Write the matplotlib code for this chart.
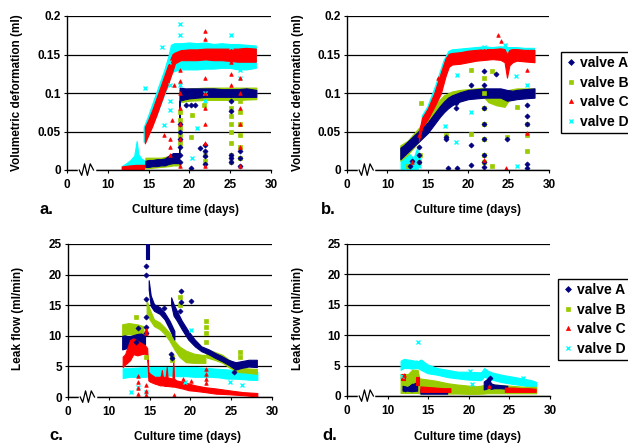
import numpy as np
import matplotlib
matplotlib.use("Agg")
import matplotlib.pyplot as plt
from matplotlib.lines import Line2D
from matplotlib.ticker import FuncFormatter

nan = np.nan

# ---------------- panel a: volumetric deformation, group 1 ----------------
aA_t = [14.6, 15.0, 15.5, 16.0, 16.5, 17.0, 17.5, 18.0, 18.5, 18.75, 18.8, 19.5, 20.0, 21.0, 22.0, 23.0, 24.0, 25.0, 26.0, 27.0, 28.2]
aA_lo = [0.004, 0.004, 0.005, 0.005, 0.006, 0.006, 0.008, 0.009, 0.009, 0.009, 0.09, 0.092, 0.093, 0.094, 0.095, 0.095, 0.095, 0.095, 0.095, 0.095, 0.095]
aA_hi = [0.012, 0.013, 0.013, 0.014, 0.014, 0.015, 0.019, 0.022, 0.022, 0.022, 0.107, 0.106, 0.106, 0.106, 0.106, 0.106, 0.105, 0.105, 0.105, 0.106, 0.104]
aA_ot = [18.8, 18.8, 18.8, 18.8, 18.8, 18.8, 20.2, 20.7, 21.3, 20.2, 21.9, 21.9, 21.9, 21.9, 25.1, 25.1, 25.1, 25.1, 25.1, 26.2, 26.2, 26.2, 19.6]
aA_ov = [0.06, 0.05, 0.04, 0.03, 0.02, 0.01, 0.085, 0.084, 0.028, 0.002, 0.033, 0.025, 0.018, 0.008, 0.09, 0.076, 0.02, 0.015, 0.01, 0.025, 0.015, 0.005, 0.085]

aB_t = [14.6, 15.5, 16.5, 17.5, 18.0, 18.7, 18.75, 18.8, 20.0, 22.0, 24.0, 26.0, 28.2]
aB_lo = [0.002, 0.003, 0.004, 0.005, 0.006, 0.006, 0.006, 0.088, 0.09, 0.091, 0.091, 0.091, 0.092]
aB_hi = [0.016, 0.016, 0.016, 0.018, 0.02, 0.022, 0.022, 0.104, 0.106, 0.107, 0.107, 0.107, 0.107]
aB_ot = [18.8, 18.8, 18.8, 18.8, 18.8, 20.3, 20.2, 21.8, 21.9, 21.9, 25.1, 25.1, 25.1, 25.1, 25.1, 25.1, 25.1, 26.2, 26.2, 26.2, 26.2, 26.2, 26.2]
aB_ov = [0.075, 0.065, 0.055, 0.045, 0.035, 0.072, 0.043, 0.085, 0.02, 0.012, 0.08, 0.07, 0.06, 0.05, 0.035, 0.02, 0.01, 0.09, 0.075, 0.06, 0.045, 0.03, 0.015]

aC_t = [11.8, 12.5, 13.5, 14.5, nan, 14.6, 15.0, 15.5, 16.0, 16.5, 17.0, 17.5, 17.8, 18.0, 18.3, 19.0, 20.0, 21.0, 22.0, 23.0, 24.0, 25.0, 26.0, 27.0, 28.2]
aC_lo = [0.0, 0.0, 0.0, 0.0, nan, 0.034, 0.044, 0.056, 0.07, 0.085, 0.1, 0.113, 0.122, 0.128, 0.138, 0.142, 0.142, 0.142, 0.143, 0.142, 0.142, 0.141, 0.14, 0.14, 0.14]
aC_hi = [0.004, 0.005, 0.006, 0.006, nan, 0.055, 0.064, 0.077, 0.092, 0.107, 0.122, 0.137, 0.145, 0.15, 0.152, 0.155, 0.156, 0.156, 0.157, 0.157, 0.157, 0.157, 0.157, 0.158, 0.157]
aC_ot = [17.6, 17.6, 17.6, 16.9, 18.8, 18.8, 18.8, 18.8, 18.8, 18.8, 18.8, 21.9, 21.9, 21.9, 21.9, 21.9, 21.9, 21.9, 21.9, 21.9,
         25.1, 25.1, 25.1, 26.2, 26.2, 26.2, 26.2, 26.2, 26.2, 26.2, 17.9, 18.1]
aC_ov = [0.04, 0.03, 0.02, 0.045, 0.13, 0.115, 0.1, 0.08, 0.06, 0.04, 0.005, 0.18, 0.17, 0.15, 0.12, 0.1, 0.08, 0.06, 0.035, 0.005,
         0.14, 0.125, 0.11, 0.15, 0.12, 0.1, 0.08, 0.06, 0.03, 0.005, 0.065, 0.11]

aD_t = [11.7, 12.3, 12.8, 13.3, 13.6, 13.8, 14.2, 14.5, nan, 14.45, 15.0, 15.5, 16.0, 16.5, 17.0, 17.5, 17.8, 18.2, 19.0, 20.0, 21.0, 22.0, 23.0, 24.0, 25.0, 26.0, 27.0, 28.2]
aD_lo = [0, 0, 0, 0, 0, 0, 0, 0, nan, 0.036, 0.047, 0.058, 0.07, 0.084, 0.098, 0.112, 0.125, 0.128, 0.13, 0.13, 0.13, 0.131, 0.131, 0.132, 0.132, 0.13, 0.13, 0.132]
aD_hi = [0.004, 0.008, 0.012, 0.018, 0.037, 0.02, 0.014, 0.012, nan, 0.055, 0.07, 0.085, 0.1, 0.115, 0.13, 0.148, 0.162, 0.164, 0.164, 0.165, 0.164, 0.165, 0.163, 0.164, 0.163, 0.163, 0.162, 0.161]
aD_ot = [14.6, 16.9, 17.5, 17.6, 17.6, 17.6, 18.8, 18.8, 18.8, 20.9, 20.3, 21.9, 21.9, 25.1, 25.1, 26.2, 26.2, 16.7]
aD_ov = [0.106, 0.058, 0.14, 0.11, 0.09, 0.078, 0.19, 0.175, 0.11, 0.055, 0.016, 0.1, 0.09, 0.175, 0.16, 0.13, 0.12, 0.16]

# ---------------- panel b: volumetric deformation, group 2 ----------------
bA_t = [11.6, 12.0, 12.5, 13.0, 13.5, 14.0, 14.5, 15.0, 15.5, 16.0, 16.5, 17.0, 17.5, 18.0, 18.5, 19.0, 20.0, 21.0, 22.0, 23.0, 24.0, 24.8, 25.5, 26.0, 27.0, 28.2]
bA_lo = [0.014, 0.018, 0.023, 0.028, 0.033, 0.038, 0.043, 0.048, 0.055, 0.062, 0.069, 0.075, 0.08, 0.084, 0.087, 0.089, 0.092, 0.093, 0.094, 0.094, 0.094, 0.09, 0.091, 0.092, 0.093, 0.094]
bA_hi = [0.029, 0.032, 0.037, 0.042, 0.047, 0.052, 0.057, 0.062, 0.069, 0.076, 0.083, 0.089, 0.094, 0.097, 0.099, 0.101, 0.104, 0.105, 0.106, 0.106, 0.106, 0.104, 0.103, 0.104, 0.105, 0.106]
bA_ot = [13.9, 13.9, 13.9, 17.2, 17.3, 17.5, 18.5, 18.5, 18.6, 20.3, 20.3, 20.4, 21.9, 21.9, 21.9, 21.9, 21.9, 21.9, 21.9, 21.9,
         23.5, 24.8, 27.3, 27.3, 27.3, 27.3, 27.3, 12.8, 13.0]
bA_ov = [0.03, 0.02, 0.01, 0.04, 0.043, 0.002, 0.08, 0.087, 0.003, 0.033, 0.006, 0.11, 0.128, 0.11, 0.08, 0.06, 0.04, 0.02, 0.01, 0.004,
         0.125, 0.04, 0.085, 0.07, 0.06, 0.008, 0.003, 0.005, 0.012]

bB_t = [11.6, 12.5, 13.0, 14.0, 15.0, 16.0, 17.0, 18.0, 19.0, 20.0, 21.0, 22.0, 22.5, 23.5, 24.5, 25.0, 26.0, 27.0, 28.2]
bB_lo = [0.012, 0.02, 0.026, 0.038, 0.052, 0.068, 0.08, 0.088, 0.092, 0.094, 0.095, 0.094, 0.088, 0.084, 0.082, 0.09, 0.094, 0.095, 0.094]
bB_hi = [0.032, 0.038, 0.044, 0.056, 0.07, 0.086, 0.097, 0.102, 0.104, 0.105, 0.106, 0.107, 0.104, 0.098, 0.096, 0.104, 0.106, 0.106, 0.106]
bB_ot = [14.2, 17.2, 20.3, 20.3, 21.9, 21.9, 21.9, 21.9, 21.9, 21.9, 21.9, 23.0, 23.0, 23.3, 24.8, 26.0, 27.3, 27.3, 27.3, 12.6, 14.0, 13.9]
bB_ov = [0.087, 0.045, 0.13, 0.047, 0.12, 0.1, 0.08, 0.06, 0.04, 0.02, 0.01, 0.128, 0.005, 0.09, 0.043, 0.082, 0.06, 0.045, 0.025, 0.005, 0.02, 0.01]

bC_t = [13.9, 14.3, 15.0, 15.8, 16.6, 17.2, 17.6, 18.0, 19.0, 20.0, 21.0, 22.0, 23.0, 24.0, 24.5, 24.8, 25.1, 25.5, 26.0, 27.0, 28.2]
bC_lo = [0.038, 0.055, 0.066, 0.082, 0.099, 0.122, 0.134, 0.137, 0.138, 0.14, 0.142, 0.143, 0.144, 0.143, 0.14, 0.12, 0.136, 0.14, 0.142, 0.141, 0.14]
bC_hi = [0.05, 0.068, 0.08, 0.1, 0.126, 0.145, 0.151, 0.152, 0.153, 0.155, 0.156, 0.157, 0.157, 0.158, 0.157, 0.15, 0.156, 0.157, 0.157, 0.156, 0.156]
bC_ot = [16.3, 23.7, 24.0, 21.9, 27.3, 27.3, 24.7, 13.9, 13.0]
bC_ov = [0.12, 0.175, 0.168, 0.013, 0.13, 0.048, 0.003, 0.045, 0.01]

bD_t = [11.7, 12.3, 12.8, 13.3, 13.8, nan, 14.3, 15.0, 16.0, 17.0, 17.6, 18.0, 19.0, 20.0, 21.0, 22.0, 23.0, 24.0, 25.0, 26.0, 27.0, 28.2]
bD_lo = [0, 0, 0, 0, 0, nan, 0.058, 0.068, 0.09, 0.118, 0.134, 0.137, 0.139, 0.141, 0.143, 0.144, 0.145, 0.145, 0.143, 0.143, 0.142, 0.142]
bD_hi = [0.012, 0.016, 0.02, 0.015, 0.03, nan, 0.07, 0.082, 0.11, 0.142, 0.154, 0.156, 0.157, 0.158, 0.159, 0.16, 0.159, 0.16, 0.159, 0.159, 0.158, 0.158]
bD_ot = [17.1, 18.5, 20.3, 21.9, 24.5, 25.9, 27.3, 26.0, 18.6, 12.8, 13.9, 13.9]
bD_ov = [0.057, 0.036, 0.075, 0.16, 0.162, 0.122, 0.11, 0.005, 0.124, 0.005, 0.005, 0.015]

# ---------------- panel c: leak flow, group 1 ----------------
cA_t = [11.7, 12.0, 12.5, 13.0, 13.5, 14.0, 14.5, nan, 14.6, 14.9, nan, 14.95, 15.2, 15.6, 16.3, 16.9, 17.5, 18.1, nan,
        17.7, 18.0, 18.4, 19.0, 19.8, 20.6, 21.4, 22.3, 23.1, 23.9, 24.7, 25.6, 26.4, 27.2, 28.2]
cA_lo = [7.7, 7.8, 8.0, 8.2, 8.0, 8.3, 8.5, nan, 22.5, 22.5, nan, 17.5, 14.8, 14.0, 13.5, 12.6, 11.0, 9.3, nan,
         15.0, 13.2, 12.4, 11.0, 9.3, 8.2, 7.4, 6.9, 6.3, 5.8, 5.2, 4.4, 4.7, 4.9, 4.8]
cA_hi = [9.9, 10.0, 9.8, 10.0, 10.2, 10.3, 10.0, nan, 25.0, 25.0, nan, 19.0, 16.5, 15.1, 14.6, 13.7, 12.4, 10.7, nan,
         16.2, 15.1, 14.0, 12.4, 10.7, 9.3, 8.2, 7.7, 7.1, 6.6, 6.0, 5.6, 5.8, 6.0, 6.0]
cA_ot = [14.6, 14.6, 14.6, 14.6, 14.6, 14.6, 16.8, 17.6, 17.8, 18.8, 18.8, 18.7, 20.1, 25.3, 13.6, 13.3, 12.0]
cA_ov = [21.4, 20.0, 16.0, 13.0, 11.5, 10.5, 14.6, 7.1, 6.3, 17.3, 15.5, 14.0, 15.7, 4.1, 11.3, 9.0, 8.5]

cB_t = [11.7, 12.5, 13.5, 14.3, nan, 14.7, 15.06, 15.6, 16.3, 16.9, 17.5, 18.1, 18.7, 19.5, 20.5, 21.5, 21.9, nan,
        22.0, 23.0, 24.0, 25.0, 26.0, 27.0, 28.2]
cB_lo = [10.0, 10.2, 10.0, 10.0, nan, 13.5, 12.6, 11.5, 11.0, 10.2, 9.1, 7.7, 6.5, 5.6, 5.5, 5.5, 5.5, nan,
         6.4, 6.0, 5.5, 4.6, 4.0, 3.9, 3.7]
cB_hi = [11.8, 12.0, 11.8, 11.5, nan, 15.7, 14.3, 12.6, 12.1, 11.3, 10.4, 9.1, 8.2, 7.5, 7.0, 6.8, 6.8, nan,
         7.8, 7.3, 6.8, 5.8, 5.0, 4.6, 4.5]
cB_ot = [13.3, 18.7, 18.7, 21.9, 21.9, 21.9, 21.9, 26.1, 26.1, 14.6, 17.7, 17.7]
cB_ov = [13.1, 16.3, 15.0, 12.4, 11.5, 10.5, 9.0, 7.4, 6.6, 6.5, 6.5, 6.0]

cC_t = [11.7, 12.0, 12.6, 13.0, 13.5, 14.0, 14.4, 14.7, 14.85, 15.06, 15.6, 16.3, 16.4, 16.5, 16.6, 16.9, 17.0, 17.1, 17.2,
        17.8, 17.9, 18.0, 18.3, 19.0, 19.8, 20.6, 21.8, 23.1, 24.7, 26.4, 28.2]
cC_lo = [4.9, 5.3, 6.0, 7.0, 6.8, 7.0, 7.1, 6.8, 2.7, 2.5, 2.2, 1.9, 1.9, 1.9, 1.9, 1.8, 1.8, 1.8, 1.8,
         1.7, 1.7, 1.7, 1.6, 1.4, 1.1, 1.0, 0.8, 0.55, 0.45, 0.3, 0.1]
cC_hi = [6.6, 7.0, 9.3, 9.6, 9.2, 8.8, 8.5, 8.0, 4.1, 3.8, 3.3, 3.3, 3.6, 4.4, 3.4, 3.2, 3.6, 4.9, 3.2,
         3.0, 6.0, 3.0, 2.7, 2.5, 2.2, 1.9, 1.6, 1.4, 1.1, 0.8, 0.65]
cC_ot = [13.6, 13.6, 13.6, 13.6, 14.6, 14.6, 14.6, 14.6, 14.6, 19.1, 20.1, 21.9, 21.9, 21.9, 21.9, 18.0]
cC_ov = [0.5, 1.5, 2.5, 3.5, 0.3, 1.0, 2.0, 10.4, 11.0, 3.0, 2.6, 4.5, 3.8, 3.0, 2.3, 0.3]

cD_t = [11.7, 12.5, 13.5, 14.5, 15.5, 16.5, 17.5, 18.5, 19.5, 20.5, 21.5, 22.5, 23.5, 24.5, 25.5, 26.5, 27.5, 28.2]
cD_lo = [3.1, 3.3, 3.3, 3.3, 3.4, 3.5, 3.5, 3.4, 3.4, 3.3, 3.3, 3.3, 3.2, 3.0, 3.0, 2.9, 2.8, 2.8]
cD_hi = [4.7, 4.7, 4.8, 4.9, 4.9, 4.9, 4.9, 4.9, 4.9, 4.9, 4.8, 4.7, 4.6, 4.5, 4.4, 4.3, 4.2, 4.1]
cD_ot = [12.7, 13.6, 20.1, 24.8, 26.3, 19.3, 14.6]
cD_ov = [0.8, 1.6, 11.0, 2.4, 2.0, 2.5, 0.8]

# ---------------- panel d: leak flow, group 2 ----------------
dA_t = [11.9, 12.5, 13.0, 13.7, nan, 14.1, 15.0, 16.0, 17.4, nan, 21.9, 22.2, 22.5, 22.8, 23.2, 24.0, 24.8]
dA_lo = [0.8, 0.8, 0.7, 0.8, nan, 0.3, 0.3, 0.3, 0.3, nan, 1.0, 1.1, 1.3, 1.1, 1.2, 1.2, 1.1]
dA_hi = [1.6, 1.4, 1.8, 2.2, nan, 1.1, 1.0, 0.8, 0.7, nan, 2.3, 2.6, 2.9, 2.0, 1.8, 1.7, 1.6]
dA_ot = [13.0, 22.6, 12.2]
dA_ov = [1.6, 2.9, 1.2]

dB_t = [11.6, 12.5, 13.0, 13.7, 13.9, 15.0, 16.0, 17.4, 18.5, 20.0, 21.0, 21.9, 22.3, 23.0, 24.0, 25.0, 26.0, 27.0, 28.3]
dB_lo = [0.5, 0.5, 0.5, 0.5, 0.45, 0.45, 0.45, 0.4, 0.4, 0.35, 0.35, 0.4, 0.45, 0.45, 0.45, 0.45, 0.45, 0.45, 0.45]
dB_hi = [3.6, 3.6, 4.3, 4.3, 2.9, 2.7, 2.5, 2.1, 1.9, 1.7, 1.6, 1.8, 2.2, 1.9, 1.8, 1.7, 1.6, 1.5, 1.5]
dB_ot = []
dB_ov = []

dC_t = [11.6, 12.1, nan, 13.5, 13.9, nan, 14.1, 15.0, 16.0, 17.0, 17.8, nan, 24.5, 25.5, 26.5, 27.5, 28.3]
dC_lo = [2.7, 2.7, nan, 1.8, 1.8, nan, 0.6, 0.6, 0.6, 0.6, 0.6, nan, 0.6, 0.6, 0.6, 0.6, 0.6]
dC_hi = [3.6, 3.6, nan, 3.2, 3.2, nan, 1.5, 1.4, 1.3, 1.2, 1.2, nan, 1.3, 1.3, 1.2, 1.2, 1.1]
dC_ot = [12.0, 22.5]
dC_ov = [3.4, 1.6]

dD_t = [11.6, 12.0, 12.5, 13.0, 13.7, 14.1, 14.9, 16.1, 17.4, 18.6, 19.9, 21.5, 21.9, 22.3, 22.8, 24.0, 25.3, 26.5, 27.7, 28.3]
dD_lo = [4.3, 4.6, 4.6, 4.5, 4.6, 4.3, 3.75, 3.5, 3.1, 2.9, 2.7, 2.6, 3.2, 2.9, 2.7, 2.3, 2.0, 1.8, 1.5, 1.2]
dD_hi = [5.8, 6.1, 6.0, 5.9, 5.7, 6.0, 5.2, 4.6, 4.3, 4.0, 4.0, 3.9, 4.6, 4.2, 3.9, 3.5, 3.2, 2.9, 2.6, 2.3]
dD_ot = [13.7, 20.2, 20.4, 26.7, 11.8, 13.8]
dD_ov = [8.8, 4.1, 2.0, 2.9, 3.3, 5.6]

valves = ["valve A", "valve B", "valve C", "valve D"]
colors = {"A": "#000080", "B": "#99CC00", "C": "#FF0000", "D": "#00FFFF"}
markers = {"A": "D", "B": "s", "C": "^", "D": "x"}

plt.rcParams["font.family"] = ["Liberation Sans", "DejaVu Sans"]
plt.rcParams["font.weight"] = "bold"


# broken time axis: 0-10 days squeezed into one tick step, then 5 days per step
def fwd(x):
    x = np.asarray(x, dtype=float)
    return np.where(x < 10, x / 10, 1 + (x - 10) / 5)


def inv(y):
    y = np.asarray(y, dtype=float)
    return np.where(y < 1, y * 10, 10 + (y - 1) * 5)


def setup(ax, ymax, yticks):
    ax.set_xscale("function", functions=(fwd, inv))
    ax.set_xlim(0, 30)
    ax.set_ylim(0, ymax)
    ax.set_xticks([0, 10, 15, 20, 25, 30])
    ax.set_xticklabels(["0", "10", "15", "20", "25", "30"])
    ax.set_yticks(yticks)
    ax.yaxis.set_major_formatter(FuncFormatter(lambda v, p: f"{v:g}"))
    ax.set_axisbelow(True)
    ax.yaxis.grid(True, color="black", lw=0.9)
    for s in ["top", "right"]:
        ax.spines[s].set_visible(False)
    for s in ["left", "bottom"]:
        ax.spines[s].set_linewidth(1.0)
    ax.tick_params(axis="both", direction="out", length=2.5, width=0.8, labelsize=8.5)
    ax.tick_params(axis="y", pad=2)
    ax.tick_params(axis="x", pad=4)
    # zigzag break mark on the time axis
    tr = ax.get_xaxis_transform()
    ax.plot([3.0, 6.5], [0, 0], color="white", lw=2.5, transform=tr, clip_on=False, zorder=5)
    ax.plot([3.0, 3.6, 4.3, 5.0, 5.7, 6.5], [0, -0.035, 0.04, -0.035, 0.04, 0],
            color="black", lw=0.9, transform=tr, clip_on=False, zorder=6)


def band(ax, key, t, lo, hi, ot, ov):
    c = colors[key]
    ax.fill_between(t, lo, hi, facecolor=c, edgecolor=c, lw=0.8)
    mew = 1.0 if key == "D" else 0.5
    ax.plot(ot, ov, ls="none", marker=markers[key], ms=2.6, color=c, mec=c, mew=mew)


fig = plt.figure(figsize=(6.28, 4.43), dpi=100)
W, H = 628, 443


def add_axes(x0, x1, ytop, ybot):
    return fig.add_axes([x0 / W, 1 - ybot / H, (x1 - x0) / W, (ybot - ytop) / H])


ax_a = add_axes(67, 271, 16, 170)
ax_b = add_axes(347, 549, 16, 170)
ax_c = add_axes(68, 272, 244, 397)
ax_d = add_axes(347, 550, 244, 396)

for ax in [ax_a, ax_b]:
    setup(ax, 0.2, [0, 0.05, 0.1, 0.15, 0.2])
for ax in [ax_c, ax_d]:
    setup(ax, 25, [0, 5, 10, 15, 20, 25])

# draw order: D, B, A, C
band(ax_a, "D", aD_t, aD_lo, aD_hi, aD_ot, aD_ov)
band(ax_a, "B", aB_t, aB_lo, aB_hi, aB_ot, aB_ov)
band(ax_a, "A", aA_t, aA_lo, aA_hi, aA_ot, aA_ov)
band(ax_a, "C", aC_t, aC_lo, aC_hi, aC_ot, aC_ov)

band(ax_b, "D", bD_t, bD_lo, bD_hi, bD_ot, bD_ov)
band(ax_b, "B", bB_t, bB_lo, bB_hi, bB_ot, bB_ov)
band(ax_b, "A", bA_t, bA_lo, bA_hi, bA_ot, bA_ov)
band(ax_b, "C", bC_t, bC_lo, bC_hi, bC_ot, bC_ov)

band(ax_c, "D", cD_t, cD_lo, cD_hi, cD_ot, cD_ov)
band(ax_c, "B", cB_t, cB_lo, cB_hi, cB_ot, cB_ov)
band(ax_c, "A", cA_t, cA_lo, cA_hi, cA_ot, cA_ov)
band(ax_c, "C", cC_t, cC_lo, cC_hi, cC_ot, cC_ov)

band(ax_d, "D", dD_t, dD_lo, dD_hi, dD_ot, dD_ov)
band(ax_d, "B", dB_t, dB_lo, dB_hi, dB_ot, dB_ov)
band(ax_d, "A", dA_t, dA_lo, dA_hi, dA_ot, dA_ov)
band(ax_d, "C", dC_t, dC_lo, dC_hi, dC_ot, dC_ov)

# labels
for x, y in [(17, 93), (298, 93)]:
    fig.text(x / W, 1 - y / H, "Volumetric deformation (ml)", rotation=90, ha="center", va="center", fontsize=8.5)
for x, y in [(18, 318), (298, 318)]:
    fig.text(x / W, 1 - y / H, "Leak flow (ml/min)", rotation=90, ha="center", va="center", fontsize=8.5)
for x, y in [(186, 210), (467, 210), (187, 437), (467, 437)]:
    fig.text(x / W, 1 - y / H, "Culture time (days)", ha="center", va="center", fontsize=8.5)
for x, y, s in [(40, 209, "a."), (321, 209, "b."), (49, 436, "c."), (322, 436, "d.")]:
    fig.text(x / W, 1 - y / H, s, ha="left", va="center", fontsize=12)

handles = [Line2D([], [], ls="none", marker=markers[k], color=colors[k], mec=colors[k], ms=3,
                  mew=1.0 if k == "D" else 0.5) for k in "ABCD"]
for xleft, ytop in [(561, 52), (558, 279)]:
    leg = fig.legend(handles, valves, loc="upper left", bbox_to_anchor=(xleft / W, 1 - ytop / H),
                     bbox_transform=fig.transFigure, frameon=True, fancybox=False, framealpha=1,
                     edgecolor="black", fontsize=10, borderpad=0.3, labelspacing=0.4,
                     handlelength=0.8, handletextpad=0.3, borderaxespad=0)
    leg.get_frame().set_linewidth(1.0)

fig.savefig("out.png", dpi=100)
